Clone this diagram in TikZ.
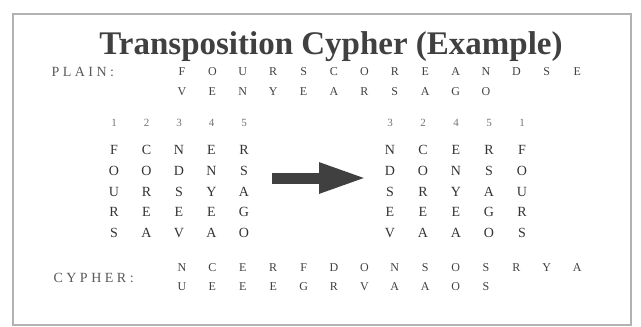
\documentclass[tikz,border=0pt]{standalone}
\usepackage{fontspec}
\setmainfont{Liberation Serif}
\usetikzlibrary{arrows.meta}

\begin{document}
\begin{tikzpicture}[
    x=1pt, y=-1pt,
    title/.style={font=\fontsize{33}{36}\selectfont\bfseries, text=black!75},
    tag/.style={font=\fontsize{14}{17}\selectfont\addfontfeature{LetterSpace=25}, text=black!65, anchor=west},
    letter/.style={font=\fontsize{12}{14}\selectfont, text=black!75},
    cell/.style={font=\fontsize{14}{16}\selectfont, text=black!80},
    colnum/.style={font=\fontsize{11}{13}\selectfont, text=black!55},
    bigarrow/.style={line width=11pt, black!75, -{Triangle[length=48pt, width=28pt]}}
]
\useasboundingbox (0,0) rectangle (641,327);
\draw[black!30, line width=2pt] (13,14) rectangle (631,325);

\node[title] (title) at (331,47) {Transposition Cypher (Example)};

% plain text, two lines
\node[tag] (plainlabel) at (48,72) {PLAIN:};
\foreach \ch [count=\i] in {F,O,U,R,S,C,O,R,E,A,N,D,S,E}
  \node[letter] (plain1-\i) at ({182+30.4*(\i-1)},72) {\ch};
\foreach \ch [count=\i] in {V,E,N,Y,E,A,R,S,A,G,O}
  \node[letter] (plain2-\i) at ({182+30.4*(\i-1)},92) {\ch};

% left grid, written down the columns
\foreach \d [count=\c] in {1,2,3,4,5}
  \node[colnum] (lhead-\c) at ({114+32.5*(\c-1)},123) {\d};
\foreach \row [count=\r] in {{F,C,N,E,R},{O,O,D,N,S},{U,R,S,Y,A},{R,E,E,E,G},{S,A,V,A,O}}
  \foreach \ch [count=\c] in \row
    \node[cell] (left-\r-\c) at ({114+32.5*(\c-1)},{150+20.8*(\r-1)}) {\ch};

% right grid, columns reordered
\foreach \d [count=\c] in {3,2,4,5,1}
  \node[colnum] (rhead-\c) at ({390+33*(\c-1)},123) {\d};
\foreach \row [count=\r] in {{N,C,E,R,F},{D,O,N,S,O},{S,R,Y,A,U},{E,E,E,G,R},{V,A,A,O,S}}
  \foreach \ch [count=\c] in \row
    \node[cell] (right-\r-\c) at ({390+33*(\c-1)},{150+20.8*(\r-1)}) {\ch};

\coordinate (tail) at (272,178);
\coordinate (tip) at (367,178);
\draw[bigarrow] (tail) -- (tip);

% cypher text, two lines
\node[tag] (cypherlabel) at (50,278) {CYPHER:};
\foreach \ch [count=\i] in {N,C,E,R,F,D,O,N,S,O,S,R,Y,A}
  \node[letter] (cypher1-\i) at ({182+30.4*(\i-1)},268) {\ch};
\foreach \ch [count=\i] in {U,E,E,E,G,R,V,A,A,O,S}
  \node[letter] (cypher2-\i) at ({182+30.4*(\i-1)},287) {\ch};

\end{tikzpicture}
\end{document}
